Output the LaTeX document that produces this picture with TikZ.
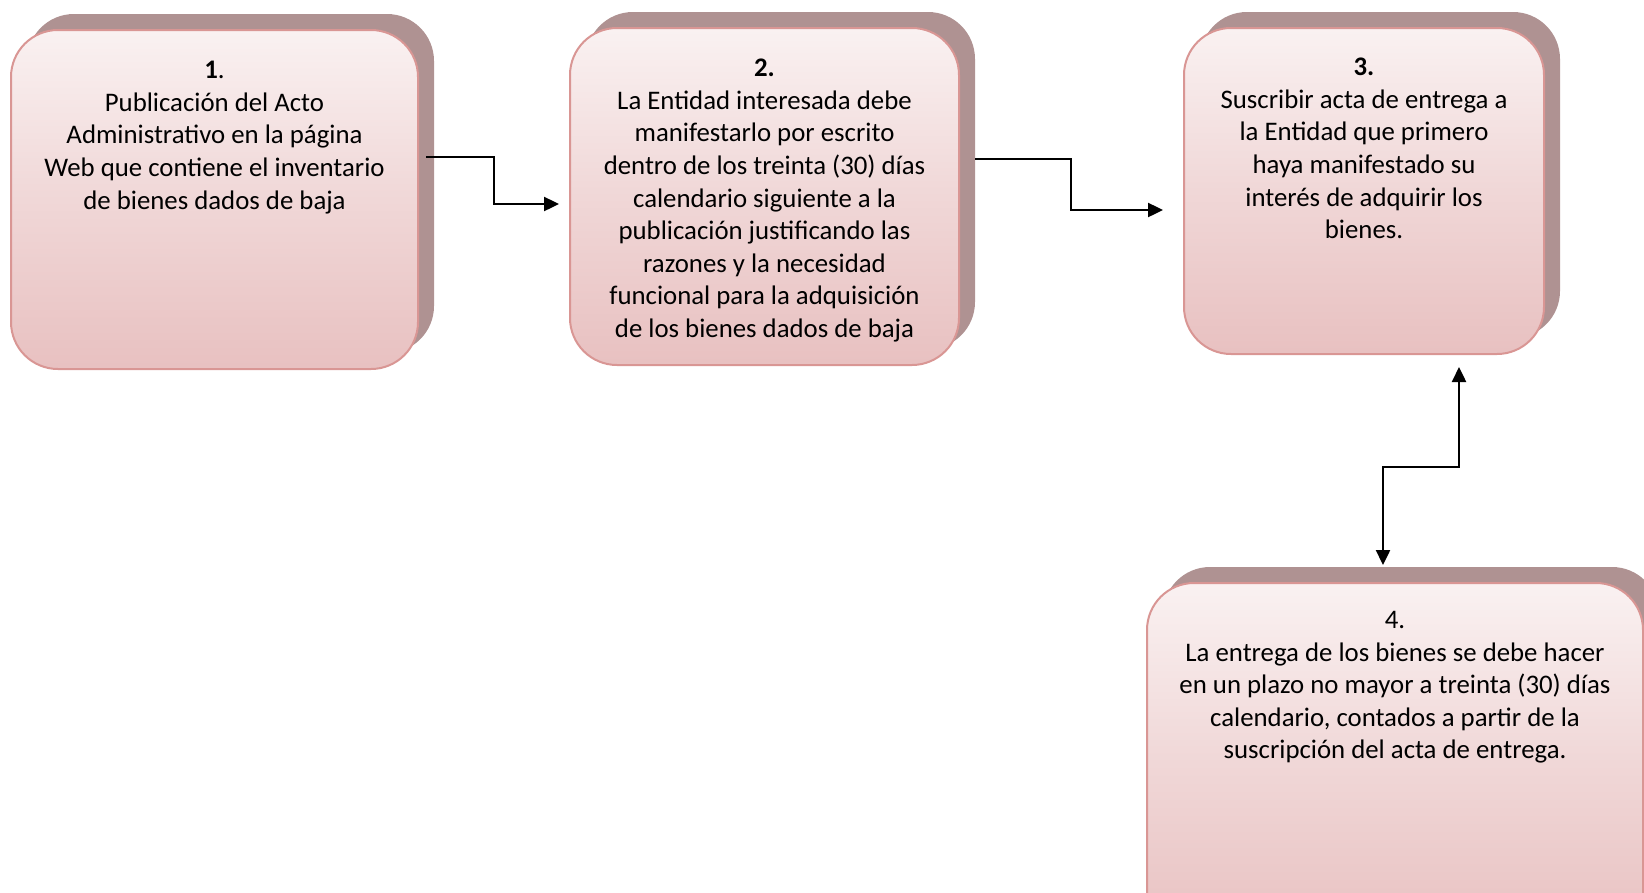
\documentclass[tikz,border=0pt]{standalone}
\usepackage{fontspec}
\setmainfont{Carlito}
\usetikzlibrary{shadows,calc,arrows.meta}
\definecolor{boxborder}{HTML}{D99694}
\definecolor{boxshadow}{HTML}{AF9292}
\definecolor{pinkbot}{HTML}{E4B5B5}
\definecolor{pinkmid}{HTML}{F0D7D7}
\definecolor{pinktop}{HTML}{FEFDFD}
\pgfdeclareverticalshading{boxshade}{100bp}{color(0bp)=(pinkbot); color(12bp)=(pinkbot); color(50bp)=(pinkmid); color(86bp)=(pinktop); color(100bp)=(pinktop)}
\tikzset{
  stepbox/.style={draw=boxborder, line width=2pt, rounded corners=47pt,
    shading=boxshade, inner sep=0pt, anchor=north west,
    general shadow={shadow xshift=16pt, shadow yshift=16pt, fill=boxshadow}},
  steptext/.style={anchor=north, align=center, inner sep=0pt,
    font=\fontsize{26.8}{32.6}\selectfont},
  conn/.style={line width=2.4pt, -{Triangle[length=15pt,width=14pt]}},
  conn2/.style={line width=2.4pt, {Triangle[length=15pt,width=14pt]}-{Triangle[length=15pt,width=14pt]}}
}
\begin{document}
\begin{tikzpicture}[x=1pt,y=-1pt]
\useasboundingbox (0,0) rectangle (1644,892);
\clip (0,0) rectangle (1644,892);
\node[stepbox, minimum width=407pt, minimum height=339pt] (b1) at (10,29) {};
\node[stepbox, minimum width=389pt, minimum height=337pt] (b2) at (569,27) {};
\node[stepbox, minimum width=360pt, minimum height=326pt] (b3) at (1183,27) {};
\node[stepbox, minimum width=496pt, minimum height=360pt] (b4) at (1146,582) {};

\node[steptext] (t1) at ($(b1.north)+(0,32)$) {\textbf{1}.\\Publicación del Acto\\Administrativo en la página\\Web que contiene el inventario\\de bienes dados de baja};
\node[steptext] (t2) at ($(b2.north)+(0,32)$) {\textbf{2.}\\La Entidad interesada debe\\manifestarlo por escrito\\dentro de los treinta (30) días\\calendario siguiente a la\\publicación justificando las\\razones y la necesidad\\funcional para la adquisición\\de los bienes dados de baja};
\node[steptext] (t3) at ($(b3.north)+(0,31)$) {\textbf{3.}\\Suscribir acta de entrega a\\la Entidad que primero\\haya manifestado su\\interés de adquirir los\\bienes.};
\node[steptext] (t4) at ($(b4.north)+(0,29)$) {4.\\La entrega de los bienes se debe hacer\\en un plazo no mayor a treinta (30) días\\calendario, contados a partir de la\\suscripción del acta de entrega.};

\coordinate (a1s) at ($(b1.north east)+(7,128)$);
\coordinate (a1e) at ($(b2.north west)+(-10,177)$);
\draw[conn] (a1s) -- ++(68,0) |- (a1e);
\coordinate (a2s) at ($(b2.north east)+(15,132)$);
\coordinate (a2e) at ($(b3.north west)+(-20,183)$);
\draw[conn] (a2s) -- ++(96,0) |- (a2e);
\coordinate (a3s) at ($(b3.south east)+(-86,12)$);
\coordinate (a3e) at ($(b4.north west)+(237,-17)$);
\draw[conn2] (a3s) -- ++(0,100) -| (a3e);
\end{tikzpicture}
\end{document}
